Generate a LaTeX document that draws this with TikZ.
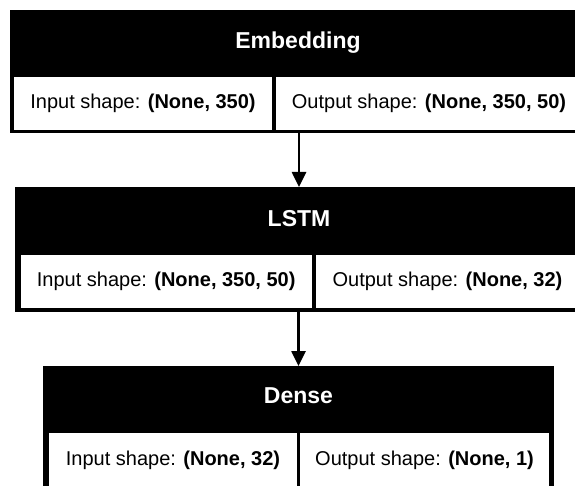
\documentclass[tikz,border=0pt]{standalone}
\usepackage{fontspec}
\setmainfont{Liberation Sans}
\usetikzlibrary{arrows.meta}
\begin{document}
\begin{tikzpicture}[x=1pt,y=-1pt,
  layerbox/.style={fill=black, draw=none, inner sep=0pt, outer sep=0pt, anchor=north west},
  cellbox/.style={fill=white, draw=none, inner sep=0pt, outer sep=0pt, anchor=north west, font=\fontsize{20}{24}\selectfont, text=black},
  headtext/.style={inner sep=0pt, anchor=base, text=white, font=\fontsize{23}{27}\selectfont\bfseries},
  arr/.style={line width=2.6pt, -{Triangle[length=15pt, width=14pt]}}]
\useasboundingbox (0,0) rectangle (575,486);
\clip (0,0) rectangle (575,486);
% Embedding
\node[layerbox, minimum width=576pt, minimum height=123pt] (emb) at (10,10) {};
\node[headtext] (embt) at (298,48.5) {Embedding};
\node[cellbox, minimum width=258pt, minimum height=53pt] (embin) at (14,77) {Input shape: \textbf{(None, 350)}};
\node[cellbox, minimum width=306pt, minimum height=53pt] (embout) at (276,77) {Output shape: \textbf{(None, 350, 50)}};
% LSTM
\node[layerbox, minimum width=568pt, minimum height=125pt] (lstm) at (15,187) {};
\node[headtext] (lstmt) at (299,226.5) {LSTM};
\node[cellbox, minimum width=291pt, minimum height=53pt] (lstmin) at (20.7,255) {Input shape: \textbf{(None, 350, 50)}};
\node[cellbox, minimum width=263pt, minimum height=53pt] (lstmout) at (316,255) {Output shape: \textbf{(None, 32)}};
% Dense
\node[layerbox, minimum width=511pt, minimum height=124pt] (dense) at (43,366) {};
\node[headtext] (denset) at (298.5,403.5) {Dense};
\node[cellbox, minimum width=248pt, minimum height=54pt] (densein) at (49,433) {Input shape: \textbf{(None, 32)}};
\node[cellbox, minimum width=249pt, minimum height=54pt] (denseout) at (300,433) {Output shape: \textbf{(None, 1)}};
% connectors
\draw[arr] (lstm.north |- emb.south) -- (lstm.north);
\draw[arr] (dense.north |- lstm.south) -- (dense.north);
\end{tikzpicture}
\end{document}
